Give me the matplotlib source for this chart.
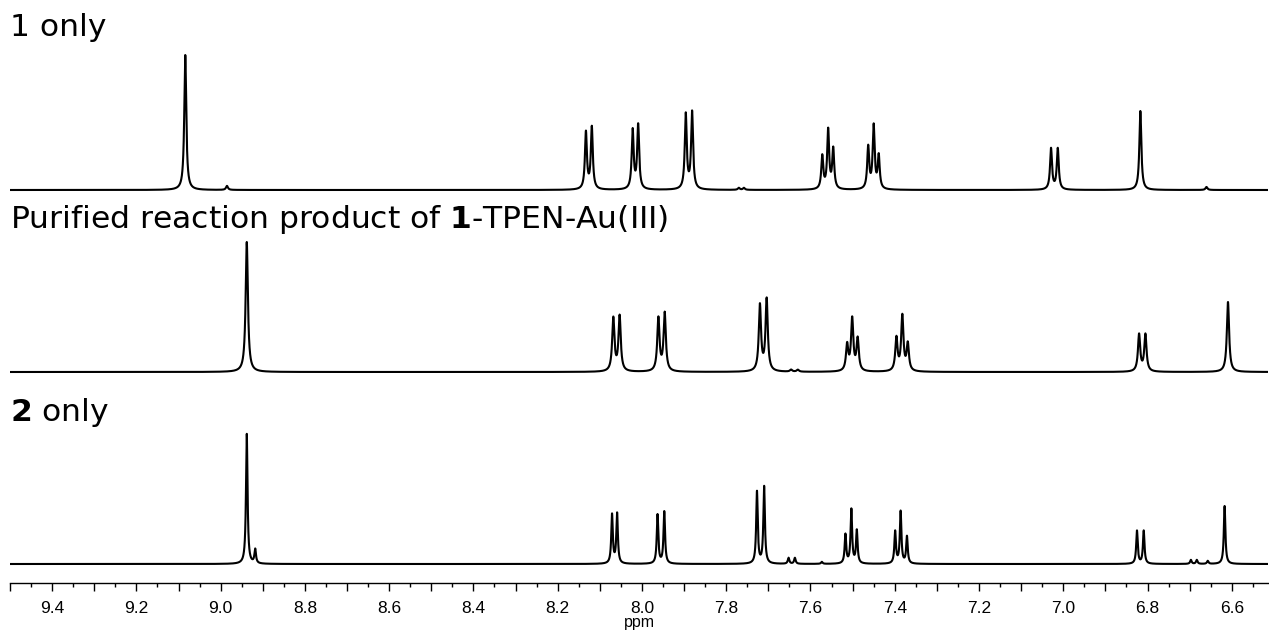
import numpy as np
import matplotlib
matplotlib.use("Agg")
import matplotlib.pyplot as plt
from matplotlib.ticker import MultipleLocator, FuncFormatter

plt.rcParams['font.family'] = ['Liberation Sans', 'DejaVu Sans']
plt.rcParams['mathtext.fontset'] = 'custom'
plt.rcParams['mathtext.rm'] = 'DejaVu Sans'
plt.rcParams['mathtext.bf'] = 'DejaVu Sans:bold'

# peak lists (ppm, height in px above baseline)
t1_ppm = [9.084, 8.985, 8.133, 8.119, 8.022, 8.009, 7.896, 7.881, 7.770, 7.758,
          7.572, 7.558, 7.546, 7.463, 7.450, 7.438, 7.029, 7.013, 6.817, 6.660]
t1_height = [135, 4, 57, 62, 59, 64, 75, 77, 2, 2,
             33, 59, 40, 42, 63, 33, 41, 41, 79, 3]

t2_ppm = [8.938, 8.068, 8.053, 7.961, 7.946, 7.720, 7.704, 7.646, 7.630,
          7.513, 7.501, 7.488, 7.396, 7.382, 7.369, 6.820, 6.805, 6.609]
t2_height = [130, 53, 55, 53, 58, 66, 72, 2, 2,
             26, 52, 32, 33, 55, 27, 37, 37, 70]

t3_ppm = [8.938, 8.918, 8.071, 8.059, 7.963, 7.947, 7.727, 7.710, 7.652, 7.637,
          7.573, 7.517, 7.503, 7.490, 7.399, 7.386, 7.371, 6.825, 6.809, 6.697,
          6.683, 6.657, 6.617]
t3_height = [130, 14, 49, 50, 49, 52, 72, 77, 6, 6,
             2, 29, 54, 33, 32, 52, 27, 33, 33, 4,
             4, 3, 58]

labels = ["1 only",
          r"Purified reaction product of $\mathbf{1}$-TPEN-Au(III)",
          r"$\mathbf{2}$ only"]


def spectrum(x, ppm, height, hw):
    y = np.zeros_like(x)
    for p, h in zip(ppm, height):
        y += h / (1 + ((x - p) / hw) ** 2)
    return y


W, H = 1269, 633
fig = plt.figure(figsize=(W / 100, H / 100), dpi=100)
ax = fig.add_axes([10 / W, (H - 583) / H, 1258 / W, 583 / H])

x = np.linspace(9.5, 6.514, 30000)
traces = [(t1_ppm, t1_height, 0.0028, 393),
          (t2_ppm, t2_height, 0.0032, 211),
          (t3_ppm, t3_height, 0.0022, 19)]
for ppm, hgt, hw, base in traces:
    ax.plot(x, base + spectrum(x, ppm, hgt, hw), color='black', lw=1.5)

ax.set_xlim(9.5, 6.514)
ax.set_ylim(0, 583)

for s in ['top', 'left', 'right']:
    ax.spines[s].set_visible(False)
ax.spines['bottom'].set_linewidth(1.0)
ax.set_yticks([])
ax.xaxis.set_major_locator(MultipleLocator(0.1))
ax.xaxis.set_minor_locator(MultipleLocator(0.05))
ax.xaxis.set_major_formatter(FuncFormatter(
    lambda v, pos: f"{v:.1f}" if abs(round(v * 10)) % 2 == 0 else ""))
ax.tick_params(axis='x', which='major', length=6, width=1, labelsize=12.5, pad=7)
ax.tick_params(axis='x', which='minor', length=3, width=1)
ax.set_xlabel("ppm", fontsize=11.5, labelpad=-1)

for txt, ytop in zip(labels, [36, 228, 421]):
    fig.text(10 / W, 1 - ytop / H, txt, fontsize=22.6, family='DejaVu Sans')

fig.savefig("out.png", dpi=100)
